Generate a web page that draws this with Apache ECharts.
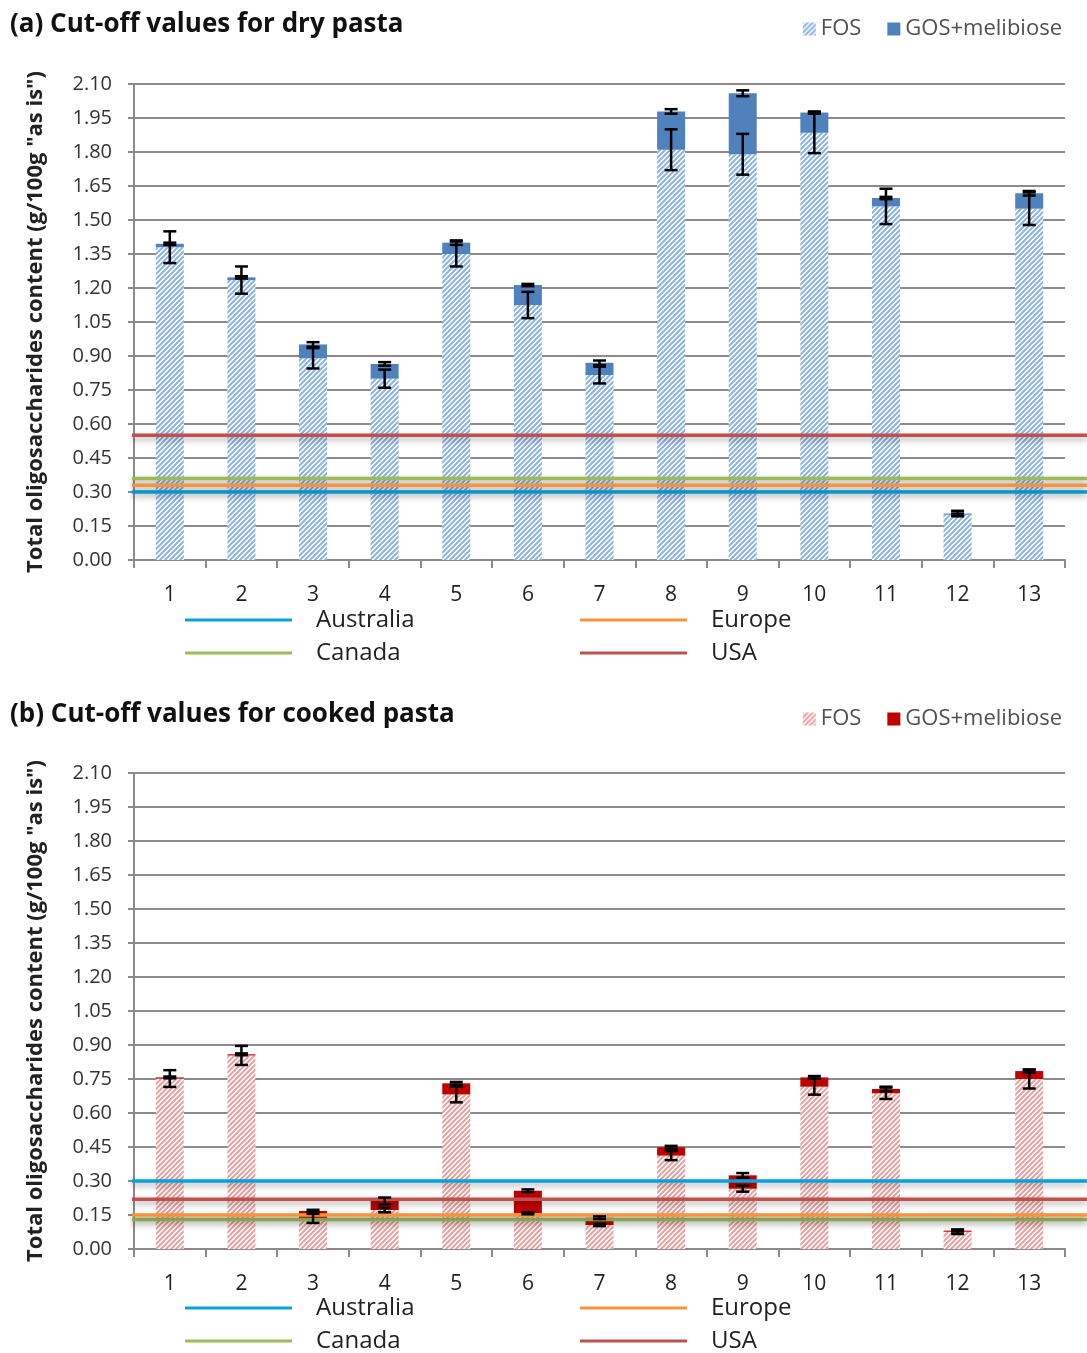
<!DOCTYPE html>
<html>
<head>
<meta charset="utf-8">
<script src="https://cdn.jsdelivr.net/npm/echarts@6/dist/echarts.min.js"></script>
<style>html,body{margin:0;padding:0;background:#fff}#c{width:1087px;height:1353px}</style>
</head>
<body>
<div id="c"></div>
<script>
const categories = ['1','2','3','4','5','6','7','8','9','10','11','12','13'];
const yTicks = {min: 0, max: 2.1, interval: 0.15};

const dryFOS = [1.38, 1.235, 0.89, 0.80, 1.35, 1.125, 0.816, 1.81, 1.79, 1.885, 1.56, 0.20, 1.55];
const dryGOS = [0.015, 0.012, 0.061, 0.065, 0.05, 0.088, 0.054, 0.169, 0.269, 0.089, 0.037, 0.005, 0.068];
const dryFOSErr = [0.07, 0.06, 0.045, 0.04, 0.055, 0.058, 0.037, 0.09, 0.09, 0.09, 0.078, 0.005, 0.072];
const dryGOSErr = [0.005, 0.005, 0.01, 0.008, 0.01, 0.005, 0.01, 0.01, 0.013, 0.005, 0.005, 0.012, 0.01];

const cookedFOS = [0.752, 0.854, 0.135, 0.172, 0.682, 0.157, 0.106, 0.412, 0.266, 0.716, 0.687, 0.076, 0.75];
const cookedGOS = [0.005, 0.005, 0.033, 0.04, 0.049, 0.1, 0.032, 0.037, 0.059, 0.041, 0.019, 0.005, 0.035];
const cookedFOSErr = [0.037, 0.042, 0.02, 0.01, 0.035, 0.004, 0.005, 0.02, 0.013, 0.035, 0.025, 0.01, 0.042];
const cookedGOSErr = [0.004, 0.004, 0.005, 0.015, 0.006, 0.006, 0.006, 0.006, 0.01, 0.006, 0.01, 0.004, 0.006];

const cutoffNames = ['Australia', 'Canada', 'Europe', 'USA'];
const dryCutoffs = [0.30, 0.36, 0.33, 0.55];
const cookedCutoffs = [0.30, 0.13, 0.15, 0.22];

const cutoffColors = {Australia: '#05a3dc', Canada: '#9bbb59', Europe: '#f7933c', USA: '#c0504d'};
const FONT = '"Open Sans", sans-serif';

function hatch(stripe) {
  const s = 5;
  const c = document.createElement('canvas');
  c.width = s; c.height = s;
  const g = c.getContext('2d');
  g.fillStyle = '#ffffff'; g.fillRect(0, 0, s, s);
  g.strokeStyle = stripe; g.lineWidth = 2;
  g.beginPath();
  g.moveTo(-1, s + 1); g.lineTo(s + 1, -1);
  g.moveTo(-1, 1); g.lineTo(1, -1);
  g.moveTo(s - 1, s + 1); g.lineTo(s + 1, s - 1);
  g.stroke();
  return {image: c, repeat: 'repeat'};
}

const panels = [
  {key: 'a', title: '(a) Cut-off values for dry pasta', top: 84, fos: dryFOS, gos: dryGOS, fosErr: dryFOSErr, gosErr: dryGOSErr,
   cut: dryCutoffs, fosColor: hatch('#8db4e2'), gosColor: '#4f81bd', titleTop: 12, legendTop: 18, bottomLegendTop: 608},
  {key: 'b', title: '(b) Cut-off values for cooked pasta', top: 773, fos: cookedFOS, gos: cookedGOS, fosErr: cookedFOSErr, gosErr: cookedGOSErr,
   cut: cookedCutoffs, fosColor: hatch('#e8a3a3'), gosColor: '#c00000', titleTop: 702, legendTop: 708, bottomLegendTop: 1296}
];

const grid = [], xAxis = [], yAxis = [], series = [], title = [], legend = [];

function errRender(params, api) {
  const x = api.value(0), c = api.value(1), e = api.value(2);
  const p1 = api.coord([x, c + e]);
  const p2 = api.coord([x, c - e]);
  const hw = 6.5;
  const st = {stroke: '#000', lineWidth: 2.5};
  return {type: 'group', children: [
    {type: 'line', shape: {x1: p1[0], y1: p1[1], x2: p2[0], y2: p2[1]}, style: st},
    {type: 'line', shape: {x1: p1[0] - hw, y1: p1[1], x2: p1[0] + hw, y2: p1[1]}, style: st},
    {type: 'line', shape: {x1: p2[0] - hw, y1: p2[1], x2: p2[0] + hw, y2: p2[1]}, style: st}
  ]};
}

panels.forEach((P, pi) => {
  const gi = pi * 2;
  grid.push({left: 134, top: P.top, width: 931, height: 476});
  grid.push({left: 132, top: P.top, width: 955, height: 476});
  xAxis.push({
    type: 'category', gridIndex: gi, data: categories,
    axisLine: {lineStyle: {color: '#8a8a8a', width: 2}},
    axisTick: {show: true, length: 8, lineStyle: {color: '#8a8a8a', width: 2}},
    axisLabel: {color: '#222', fontSize: 21, fontFamily: FONT, margin: 25}
  });
  xAxis.push({type: 'value', gridIndex: gi + 1, min: 0, max: 1, show: false});
  yAxis.push({
    type: 'value', gridIndex: gi, min: yTicks.min, max: yTicks.max, interval: yTicks.interval,
    name: 'Total oligosaccharides content (g/100g "as is")', nameLocation: 'middle', nameGap: 87,
    nameTextStyle: {fontSize: 22, fontWeight: 'bold', color: '#222', fontFamily: FONT},
    axisLine: {show: true, lineStyle: {color: '#8a8a8a', width: 2}},
    axisTick: {show: true, length: 6, lineStyle: {color: '#8a8a8a', width: 2}},
    axisLabel: {color: '#333', fontSize: 20, fontFamily: FONT, margin: 22, formatter: v => v.toFixed(2)},
    splitLine: {show: true, lineStyle: {color: '#8c8c8c', width: 2}}
  });
  yAxis.push({type: 'value', gridIndex: gi + 1, min: yTicks.min, max: yTicks.max, show: false});

  title.push({text: P.title, left: 10, top: P.titleTop, padding: 0,
    textStyle: {fontSize: 26, fontWeight: 'bold', color: '#111', fontFamily: FONT}});

  series.push({name: 'FOS (' + P.key + ')', type: 'bar', stack: 's' + P.key, xAxisIndex: gi, yAxisIndex: gi,
    barWidth: 28, data: P.fos, itemStyle: {color: P.fosColor}, z: 2, silent: true});
  series.push({name: 'GOS+melibiose (' + P.key + ')', type: 'bar', stack: 's' + P.key, xAxisIndex: gi, yAxisIndex: gi,
    barWidth: 28, data: P.gos, itemStyle: {color: P.gosColor}, z: 2, silent: true});

  cutoffNames.forEach((n, k) => {
    series.push({name: n + ' (' + P.key + ')', type: 'line', xAxisIndex: gi + 1, yAxisIndex: gi + 1,
      data: [[0, P.cut[k]], [1, P.cut[k]]], symbol: 'none', silent: true, z: 4,
      itemStyle: {color: cutoffColors[n]},
      lineStyle: {color: cutoffColors[n], width: 3.5, shadowColor: 'rgba(0,0,0,0.35)', shadowBlur: 6, shadowOffsetY: 3}});
  });

  series.push({name: 'errFOS' + P.key, type: 'custom', xAxisIndex: gi, yAxisIndex: gi, z: 6, silent: true,
    renderItem: errRender, data: P.fos.map((v, i) => [i, v, P.fosErr[i]])});
  series.push({name: 'errGOS' + P.key, type: 'custom', xAxisIndex: gi, yAxisIndex: gi, z: 6, silent: true,
    renderItem: errRender, data: P.gos.map((v, i) => [i, P.fos[i] + v, P.gosErr[i]])});

  const strip = nm => nm.replace(/ \([ab]\)$/, '');
  legend.push({data: ['FOS (' + P.key + ')', 'GOS+melibiose (' + P.key + ')'], right: 25, top: P.legendTop, padding: 0,
    itemWidth: 13, itemHeight: 13, itemGap: 26, icon: 'rect', formatter: strip, selectedMode: false,
    textStyle: {fontSize: 22, color: '#505050', fontFamily: FONT}});
  const bl = {orient: 'vertical', itemWidth: 107, itemHeight: 3, itemGap: 9, icon: 'rect', formatter: strip,
    selectedMode: false, padding: 0, top: P.bottomLegendTop, height: 90, width: 400,
    textStyle: {fontSize: 24, lineHeight: 24, color: '#222', fontFamily: FONT, padding: [0, 0, 0, 19]}};
  legend.push(Object.assign({data: ['Australia (' + P.key + ')', 'Canada (' + P.key + ')'], left: 185}, bl));
  legend.push(Object.assign({data: ['Europe (' + P.key + ')', 'USA (' + P.key + ')'], left: 580}, bl));
});

const chart = echarts.init(document.getElementById('c'), null, {renderer: 'canvas'});
chart.setOption({animation: false, backgroundColor: '#fff', title, legend, grid, xAxis, yAxis, series});
</script>
</body>
</html>
